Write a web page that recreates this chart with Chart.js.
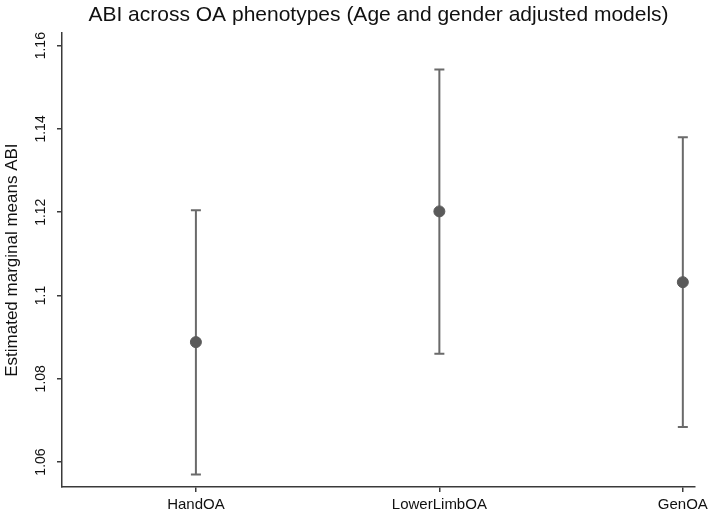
<!DOCTYPE html>
<html>
<head>
<meta charset="utf-8">
<script src="https://cdn.jsdelivr.net/npm/chart.js@4.4.1/dist/chart.umd.min.js"></script>
<style>
  html, body { margin: 0; padding: 0; background: #fff; }
  #wrap { width: 709px; height: 514px; }
</style>
</head>
<body>
<div id="wrap"><canvas id="myChart" width="709" height="514"></canvas></div>
<script>
// phenotypes and their estimated marginal means with 95% CI
var phenotypes = ['HandOA', 'LowerLimbOA', 'GenOA'];
var means = [1.0888, 1.1202, 1.1032];
var lower = [1.0570, 1.0860, 1.0684];
var upper = [1.1205, 1.1543, 1.1380];
var yTicks = [1.06, 1.08, 1.1, 1.12, 1.14, 1.16];

var barColor = '#6a6a6a';
var axisColor = '#3a3a3a';
var font = 'Arial, "Liberation Sans", Helvetica, sans-serif';

var points = phenotypes.map(function(p, i) {
  return { x: i + 1, y: means[i] };
});

// draws the CI whiskers with caps from the lower/upper arrays
var errorBars = {
  id: 'errorBars',
  beforeDatasetsDraw: function(chart) {
    var ctx = chart.ctx;
    var xs = chart.scales.x, ys = chart.scales.y;
    ctx.save();
    ctx.strokeStyle = barColor;
    ctx.lineWidth = 2;
    for (var i = 0; i < phenotypes.length; i++) {
      var px = xs.getPixelForValue(i + 1);
      var top = ys.getPixelForValue(upper[i]);
      var bot = ys.getPixelForValue(lower[i]);
      ctx.beginPath();
      ctx.moveTo(px, top);
      ctx.lineTo(px, bot);
      ctx.moveTo(px - 5, top);
      ctx.lineTo(px + 5, top);
      ctx.moveTo(px - 5, bot);
      ctx.lineTo(px + 5, bot);
      ctx.stroke();
    }
    ctx.restore();
  }
};

var ctx = document.getElementById('myChart').getContext('2d');
var myChart = new Chart(ctx, {
  type: 'scatter',
  data: {
    datasets: [{
      label: 'Margins',
      data: points,
      backgroundColor: '#5a5a5a',
      borderColor: '#5a5a5a',
      pointRadius: 5.5,
      pointHoverRadius: 5.5
    }]
  },
  options: {
    responsive: false,
    animation: false,
    layout: { padding: { left: 0, right: 14, top: 0, bottom: 0 } },
    plugins: {
      legend: { display: false },
      tooltip: { enabled: false },
      title: {
        display: true,
        fullSize: false,
        text: 'ABI across OA phenotypes (Age and gender adjusted models)',
        color: '#111',
        font: { family: font, size: 21, weight: 'normal' },
        padding: { top: 3, bottom: 5 }
      }
    },
    scales: {
      x: {
        type: 'linear',
        min: 0.45,
        max: 3.05,
        afterBuildTicks: function(scale) {
          scale.ticks = phenotypes.map(function(p, i) { return { value: i + 1 }; });
        },
        afterFit: function(scale) {
          scale.height = 27;
          scale.paddingLeft = 0;
          scale.paddingRight = 0;
        },
        ticks: {
          color: '#111',
          padding: 4,
          maxRotation: 0,
          font: { family: font, size: 15 },
          callback: function(v) { return phenotypes[v - 1]; }
        },
        grid: { drawOnChartArea: false, drawTicks: true, tickLength: 5, color: axisColor, lineWidth: 1.5 },
        border: { display: true, color: axisColor, width: 1.5 }
      },
      y: {
        type: 'linear',
        min: 1.054,
        max: 1.163,
        afterBuildTicks: function(scale) {
          scale.ticks = yTicks.map(function(v) { return { value: v }; });
        },
        afterFit: function(scale) {
          scale.width = 62;
          scale.paddingTop = 0;
          scale.paddingBottom = 0;
        },
        ticks: {
          color: '#111',
          padding: 2,
          minRotation: 90,
          maxRotation: 90,
          crossAlign: 'center',
          font: { family: font, size: 14 },
          callback: function(v) { return String(+v.toFixed(2)); }
        },
        title: {
          display: true,
          text: 'Estimated marginal means ABI',
          color: '#111',
          font: { family: font, size: 17 },
          padding: { top: 2, bottom: 0 }
        },
        grid: { drawOnChartArea: false, drawTicks: true, tickLength: 5, color: axisColor, lineWidth: 1.5 },
        border: { display: true, color: axisColor, width: 1.5 }
      }
    }
  },
  plugins: [errorBars]
});
</script>
</body>
</html>
